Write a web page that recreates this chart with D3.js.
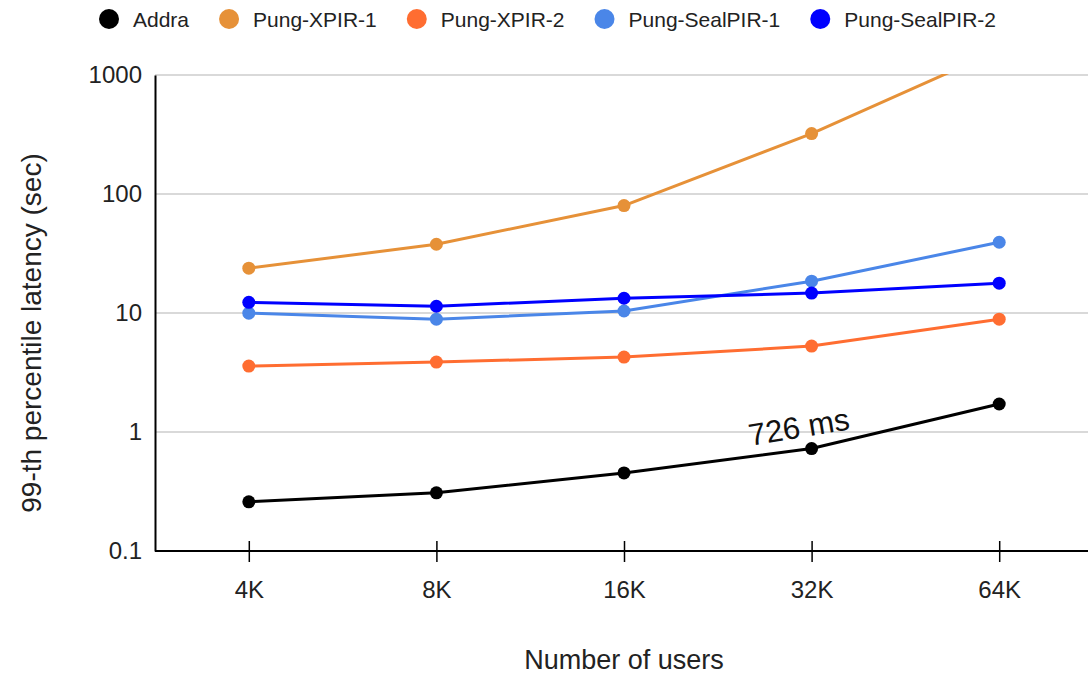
<!DOCTYPE html>
<html><head><meta charset="utf-8">
<script src="https://cdn.jsdelivr.net/npm/d3@7"></script>
<style>body{margin:0;background:#fff}svg{display:block;font-family:"Liberation Sans",Arial,sans-serif}</style>
</head><body>
<svg id="c" width="1088" height="676"></svg>
<script>
const categories = ["4K","8K","16K","32K","64K"];
const seriesNames = ["Addra","Pung-XPIR-1","Pung-XPIR-2","Pung-SealPIR-1","Pung-SealPIR-2"];
const seriesColors = ["#000000","#e69138","#ff6d31","#4a86e8","#0000ff"];
const addra = [0.259, 0.308, 0.453, 0.726, 1.72];
const xpir1 = [23.8, 37.8, 80, 322, 1620];
const xpir2 = [3.58, 3.87, 4.26, 5.27, 8.87];
const seal1 = [9.96, 8.87, 10.4, 18.5, 39.3];
const seal2 = [12.3, 11.4, 13.3, 14.7, 17.8];
const yTicks = [0.1, 1, 10, 100, 1000];
const annotation = {series: 0, index: 3, text: "726 ms"};
const allValues = [addra, xpir1, xpir2, seal1, seal2];

const svg = d3.select("#c");
const L = 155, R = 1093, T = 75, B = 551;
const x = d3.scalePoint().domain(categories).range([L, R]).padding(0.5);
const y = d3.scaleLog().domain([0.1, 1000]).range([B, T]);

// gridlines
svg.append("g").selectAll("line").data(yTicks.slice(1)).join("line")
  .attr("x1", L).attr("x2", 1088).attr("y1", d => y(d)).attr("y2", d => y(d))
  .attr("stroke", "#cccccc").attr("stroke-width", 1.5);

// y axis
const ya = svg.append("g").attr("transform", `translate(${L},0)`)
  .call(d3.axisLeft(y).tickValues(yTicks).tickFormat(d => d3.format("~g")(d)).tickSize(0).tickPadding(13));
ya.select(".domain").attr("stroke", "#000").attr("stroke-width", 2);
ya.selectAll("text").attr("font-size", 24).attr("fill", "#222").attr("font-family", "Liberation Sans, Arial, sans-serif");

// x axis
const xa = svg.append("g").attr("transform", `translate(0,${B})`)
  .call(d3.axisBottom(x).tickSize(0).tickPadding(30));
xa.select(".domain").attr("d", `M${L},0H1088`).attr("stroke", "#000").attr("stroke-width", 2);
xa.selectAll(".tick line").attr("y1", -10).attr("y2", 11).attr("stroke", "#000").attr("stroke-width", 1.5);
xa.selectAll("text").attr("font-size", 24).attr("fill", "#222").attr("font-family", "Liberation Sans, Arial, sans-serif");

// titles
svg.append("text").attr("x", 624).attr("y", 669).attr("text-anchor", "middle")
  .attr("font-size", 27).attr("fill", "#222").text("Number of users");
svg.append("text").attr("transform", `translate(41,${(T+B)/2 + 20}) rotate(-90)`).attr("text-anchor", "middle")
  .attr("font-size", 28).attr("fill", "#222").text("99-th percentile latency (sec)");

// clip
svg.append("clipPath").attr("id", "clip").append("rect").attr("x", 0).attr("y", T - 1).attr("width", 1088).attr("height", 676);

const line = d3.line().x((d, i) => x(categories[i])).y(d => y(d));
const plot = svg.append("g").attr("clip-path", "url(#clip)");
const order = [2, 3, 4, 1, 0];
order.forEach(si => {
  const g = plot.append("g");
  g.append("path").datum(allValues[si]).attr("d", line).attr("fill", "none")
    .attr("stroke", seriesColors[si]).attr("stroke-width", 3).attr("stroke-linejoin", "round");
  g.selectAll("circle").data(allValues[si]).join("circle")
    .attr("cx", (d, i) => x(categories[i])).attr("cy", d => y(d)).attr("r", 6.5)
    .attr("fill", seriesColors[si]);
});

// annotation
{
  const v = allValues[annotation.series][annotation.index];
  const ax = x(categories[annotation.index]) - 11, ay = y(v) - 11;
  svg.append("text").attr("transform", `translate(${ax},${ay}) rotate(-9.5)`)
    .attr("text-anchor", "middle").attr("font-size", 31).attr("fill", "#111").text(annotation.text);
}

// legend
const lg = svg.append("g");
let cx = 109;
seriesNames.forEach((n, i) => {
  lg.append("circle").attr("cx", cx).attr("cy", 19).attr("r", 10).attr("fill", seriesColors[i]);
  const t = lg.append("text").attr("x", cx + 24).attr("y", 26.5).attr("font-size", 21).attr("fill", "#222").text(n);
  const w = t.node().getComputedTextLength();
  cx = cx + 24 + w + 40;
});
</script>
</body></html>
